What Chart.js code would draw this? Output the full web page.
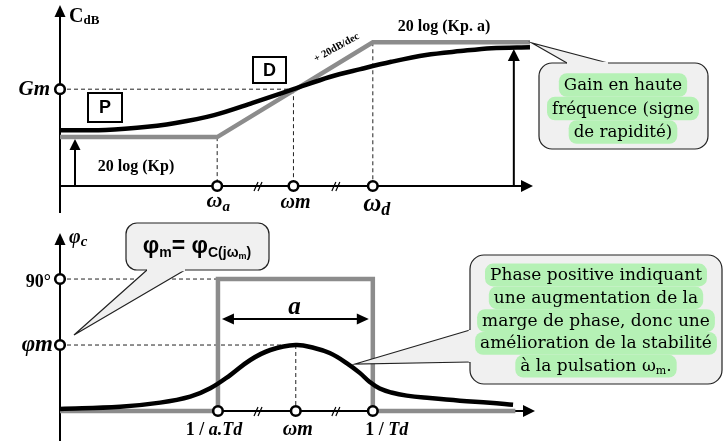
<!DOCTYPE html>
<html><head><meta charset="utf-8">
<script src="https://cdn.jsdelivr.net/npm/chart.js@4.4.0/dist/chart.umd.min.js"></script>
<style>
html,body{margin:0;padding:0;background:#fff;}
#wrap{position:relative;width:725px;height:441px;overflow:hidden;background:#fff;}
#c1{position:absolute;left:0;top:0;}
#c2{position:absolute;left:0;top:220px;}
</style></head><body>
<div id="wrap"><canvas id="c1" width="725" height="220"></canvas><canvas id="c2" width="725" height="221"></canvas></div>
<script>
// ---------- DATA ----------
// log-frequency axis (arbitrary units), gain in dB-like units, phase in degrees
const gainX      = [0, 0.5, 1, 1.5, 2, 2.5, 3.03, 3.5, 3.9, 4.3, 4.75, 5.2, 5.6, 6.1];
const gainY      = [11.4, 11.4, 11.9, 12.9, 14.5, 17.0, 19.8, 22.3, 23.9, 25.4, 26.8, 27.6, 28.2, 28.4];
const gainAsymX  = [0, 2.04, 4.06, 6.1];
const gainAsymY  = [10, 10, 29.4, 29.4];
const gainTickX  = [2.04, 3.03, 4.06];
const gainLevels = {low: 10, gm: 19.8, high: 29.4};

const phaseX     = [0, 0.78, 1.30, 1.69, 1.95, 2.21, 2.47, 2.73, 3.06, 3.30, 3.50, 3.72, 3.89, 4.02, 4.15, 4.30, 4.50, 4.80, 5.19, 5.58, 5.88];
const phaseY     = [1.4, 2.9, 5.7, 9.8, 15.5, 24.5, 34.8, 41.6, 45, 43, 39.5, 32.7, 26, 19.8, 15.3, 12.6, 10.5, 8.8, 7.0, 5.7, 4.3];
const phaseAsymX = [0, 2.05, 2.05, 4.06, 4.06, 5.91];
const phaseAsymY = [0, 0, 90, 90, 0, 0];
const phaseTickX = [2.05, 3.06, 4.06];
const phaseLevels = {max: 90, phim: 45};

// ---------- HELPERS ----------
const MATH = '"Liberation Serif", serif';
const SANS = '"Liberation Sans", "DejaVu Sans", sans-serif';
const TXT  = '"DejaVu Serif", serif';
const GREY = '#8c8c8c';

function pts(xs, ys){ return xs.map((x,i)=>({x:x, y:ys[i]})); }
function seg(ctx,x1,y1,x2,y2,w,col){ctx.save();ctx.lineWidth=w||2;ctx.strokeStyle=col||'#000';ctx.beginPath();ctx.moveTo(x1,y1);ctx.lineTo(x2,y2);ctx.stroke();ctx.restore();}
function dashed(ctx,x1,y1,x2,y2){ctx.save();ctx.setLineDash([4,3]);ctx.lineWidth=1;ctx.strokeStyle='#222';ctx.beginPath();ctx.moveTo(x1,y1);ctx.lineTo(x2,y2);ctx.stroke();ctx.restore();}
function head(ctx,tx,ty,dir,len,half){
  ctx.save();ctx.fillStyle='#000';ctx.beginPath();
  if(dir==='up'){ctx.moveTo(tx,ty);ctx.lineTo(tx-half,ty+len);ctx.lineTo(tx+half,ty+len);}
  if(dir==='right'){ctx.moveTo(tx,ty);ctx.lineTo(tx-len,ty-half);ctx.lineTo(tx-len,ty+half);}
  if(dir==='left'){ctx.moveTo(tx,ty);ctx.lineTo(tx+len,ty-half);ctx.lineTo(tx+len,ty+half);}
  ctx.closePath();ctx.fill();ctx.restore();
}
function circle(ctx,x,y){ctx.save();ctx.beginPath();ctx.arc(x,y,4.8,0,Math.PI*2);ctx.fillStyle='#fff';ctx.fill();ctx.lineWidth=2.6;ctx.strokeStyle='#000';ctx.stroke();ctx.restore();}
function brk(ctx,x,y){ctx.save();ctx.lineWidth=1.2;ctx.strokeStyle='#000';for(let i=0;i<2;i++){ctx.beginPath();ctx.moveTo(x-4+i*4,y+5);ctx.lineTo(x+i*4,y-4);ctx.stroke();}ctx.restore();}
function rich(ctx,parts,x,y,align){
  let w=0; parts.forEach(p=>{ctx.font=p.f;p.w=ctx.measureText(p.t).width;w+=p.w;});
  let sx = align==='center'? x-w/2 : (align==='right'? x-w : x);
  ctx.save();ctx.fillStyle='#000';ctx.textAlign='left';ctx.textBaseline='alphabetic';
  parts.forEach(p=>{ctx.font=p.f;ctx.fillText(p.t,sx,y+(p.dy||0));sx+=p.w;});
  ctx.restore(); return w;
}
function rrect(ctx,x,y,w,h,r){ctx.beginPath();ctx.moveTo(x+r,y);ctx.lineTo(x+w-r,y);ctx.arcTo(x+w,y,x+w,y+r,r);ctx.lineTo(x+w,y+h-r);ctx.arcTo(x+w,y+h,x+w-r,y+h,r);ctx.lineTo(x+r,y+h);ctx.arcTo(x,y+h,x,y+h-r,r);ctx.lineTo(x,y+r);ctx.arcTo(x,y,x+r,y,r);ctx.closePath();}
function callout(ctx,bx,by,bw,bh,r,b1,b2,tip){
  ctx.save();
  rrect(ctx,bx,by,bw,bh,r);ctx.fillStyle='#f0f0f0';ctx.fill();ctx.lineWidth=1.2;ctx.strokeStyle='#222';ctx.stroke();
  ctx.beginPath();ctx.moveTo(b1[0],b1[1]);ctx.lineTo(tip[0],tip[1]);ctx.lineTo(b2[0],b2[1]);ctx.closePath();ctx.fill();
  ctx.beginPath();ctx.moveTo(b1[0],b1[1]);ctx.lineTo(tip[0],tip[1]);ctx.lineTo(b2[0],b2[1]);ctx.stroke();
  ctx.strokeStyle='#f0f0f0';ctx.lineWidth=2.6;ctx.beginPath();ctx.moveTo(b1[0],b1[1]);ctx.lineTo(b2[0],b2[1]);ctx.stroke();
  ctx.restore();
}
function fitSize(ctx,text,family,weight,target){ctx.font=weight+' 20px '+family;return 20*target/ctx.measureText(text).width;}
function greenLines(ctx,lines,cx,cy0,lh,font){
  ctx.save();ctx.font=font;
  lines.forEach((ln,i)=>{
    let w=0; ln.forEach(p=>{ctx.font=p.f||font;w+=ctx.measureText(p.t).width;});
    ctx.fillStyle='#b5f1b5'; rrect(ctx,cx-w/2-5,cy0+i*lh-lh/2,w+10,lh,8); ctx.fill();
  });
  lines.forEach((ln,i)=>{
    rich(ctx, ln.map(p=>({t:p.t,f:p.f||font,dy:p.dy||0})), cx, cy0+i*lh+5, 'center');
  });
  ctx.restore();
}
function box(ctx,x,y,w,h,letter){
  ctx.save();ctx.fillStyle='#fff';ctx.fillRect(x,y,w,h);ctx.lineWidth=2;ctx.strokeStyle='#000';ctx.strokeRect(x,y,w,h);
  ctx.fillStyle='#000';ctx.font='bold 18px '+SANS;ctx.textAlign='center';ctx.textBaseline='middle';ctx.fillText(letter,x+w/2,y+h/2+1);ctx.restore();
}

// ---------- TOP (gain) ----------
const topDeco = {id:'topDeco',
  beforeDatasetsDraw(chart){
    const ctx=chart.ctx, X=v=>chart.scales.x.getPixelForValue(v), Y=v=>chart.scales.y.getPixelForValue(v);
    const x0=X(0), y0=Y(0);
    dashed(ctx,x0,Y(gainLevels.gm),X(gainTickX[1]),Y(gainLevels.gm));
    dashed(ctx,X(gainTickX[0]),Y(gainLevels.low),X(gainTickX[0]),y0);
    dashed(ctx,X(gainTickX[1]),Y(gainLevels.gm),X(gainTickX[1]),y0);
    dashed(ctx,X(gainTickX[2]),Y(gainLevels.high),X(gainTickX[2]),y0);
    seg(ctx,x0,213,x0,14,2); head(ctx,x0,5,'up',12,5.5);
    seg(ctx,x0,y0,523,y0,2); head(ctx,533,y0,'right',12,6);
    const xa=X(0.195); seg(ctx,xa,y0,xa,Y(gainLevels.low)+12,2); head(ctx,xa,Y(gainLevels.low)+2,'up',11,5.5);
    const xb=X(5.89); seg(ctx,xb,y0,xb,60,2); head(ctx,xb,49,'up',12,6);
  },
  afterDatasetsDraw(chart){
    const ctx=chart.ctx, X=v=>chart.scales.x.getPixelForValue(v), Y=v=>chart.scales.y.getPixelForValue(v);
    const x0=X(0), y0=Y(0);
    brk(ctx,X(2.57),y0); brk(ctx,X(3.58),y0);
    circle(ctx,x0,Y(gainLevels.gm));
    gainTickX.forEach(v=>circle(ctx,X(v),y0));
    rich(ctx,[{t:'C',f:'bold 20px '+MATH},{t:'dB',f:'bold 13px '+MATH,dy:2}],69,22,'left');
    rich(ctx,[{t:'Gm',f:'bold italic 21px '+MATH}],50,95,'right');
    rich(ctx,[{t:'ω',f:'bold italic 22px '+MATH},{t:'a',f:'bold italic 15px '+MATH,dy:4}],X(gainTickX[0])+1,207,'center');
    rich(ctx,[{t:'ωm',f:'bold italic 20px '+MATH}],X(gainTickX[1])+2,208,'center');
    rich(ctx,[{t:'ω',f:'bold italic 25px '+MATH},{t:'d',f:'bold italic 18px '+MATH,dy:4}],X(gainTickX[2])+4,211,'center');
    rich(ctx,[{t:'20 log (Kp)',f:'bold 16px '+MATH}],136,171,'center');
    rich(ctx,[{t:'20 log (Kp. a)',f:'bold 16px '+MATH}],444,31,'center');
    ctx.save();ctx.translate(338,50);ctx.rotate(-29*Math.PI/180);
    rich(ctx,[{t:'+ 20dB/dec',f:'bold 10.5px '+MATH}],0,0,'center');ctx.restore();
    box(ctx,88,93,34,29,'P'); box(ctx,253,57,33,26,'D');
    callout(ctx,539,63,169,86,13,[567,63],[608,63],[532,43]);
    const s=fitSize(ctx,'fréquence (signe',TXT,'normal',142);
    const f='normal '+s.toFixed(2)+'px '+TXT;
    greenLines(ctx,[[{t:'Gain en haute'}],[{t:'fréquence (signe'}],[{t:'de rapidité)'}]],623,85,23.5,f);
  }
};

new Chart(document.getElementById('c1'),{
  type:'scatter',
  data:{datasets:[
    {data:pts(gainAsymX,gainAsymY),showLine:true,borderColor:GREY,borderWidth:4.5,pointRadius:0,tension:0,clip:false,order:2,borderJoinStyle:'miter'},
    {data:pts(gainX,gainY),showLine:true,borderColor:'#000',borderWidth:4.5,pointRadius:0,cubicInterpolationMode:'monotone',clip:false,order:1}
  ]},
  options:{responsive:false,animation:false,events:[],
    layout:{padding:{left:60,right:195,top:10,bottom:34}},
    plugins:{legend:{display:false},tooltip:{enabled:false}},
    scales:{x:{type:'linear',min:0,max:6.1,display:false},y:{type:'linear',min:0,max:36,display:false}}},
  plugins:[topDeco]
});

// ---------- BOTTOM (phase) ----------
const botDeco = {id:'botDeco',
  beforeDatasetsDraw(chart){
    const ctx=chart.ctx, X=v=>chart.scales.x.getPixelForValue(v), Y=v=>chart.scales.y.getPixelForValue(v);
    const x0=X(0), y0=Y(0);
    dashed(ctx,x0,Y(phaseLevels.max),X(phaseTickX[0]),Y(phaseLevels.max));
    dashed(ctx,x0,Y(phaseLevels.phim),X(phaseTickX[1]),Y(phaseLevels.phim));
    dashed(ctx,X(phaseTickX[1]),Y(phaseLevels.phim),X(phaseTickX[1]),y0);
    seg(ctx,x0,221,x0,24,2); head(ctx,x0,13,'up',12,5.5);
    seg(ctx,x0,y0,525,y0,2); head(ctx,535,y0,'right',12,6);
    const ya=99; seg(ctx,X(phaseTickX[0])+12,ya,X(phaseTickX[2])-12,ya,2);
    head(ctx,X(phaseTickX[0])+4,ya,'left',12,5.5); head(ctx,X(phaseTickX[2])-4,ya,'right',12,5.5);
  },
  afterDatasetsDraw(chart){
    const ctx=chart.ctx, X=v=>chart.scales.x.getPixelForValue(v), Y=v=>chart.scales.y.getPixelForValue(v);
    const x0=X(0), y0=Y(0);
    brk(ctx,X(2.57),y0); brk(ctx,X(3.58),y0);
    circle(ctx,x0,Y(phaseLevels.max)); circle(ctx,x0,Y(phaseLevels.phim));
    phaseTickX.forEach(v=>circle(ctx,X(v),y0));
    rich(ctx,[{t:'φ',f:'bold italic 20px '+MATH},{t:'c',f:'bold italic 15px '+MATH,dy:3}],69,23,'left');
    rich(ctx,[{t:'90°',f:'bold 18px '+MATH}],51,67,'right');
    rich(ctx,[{t:'φm',f:'bold italic 23px '+MATH}],53,131,'right');
    rich(ctx,[{t:'a',f:'bold italic 25px '+MATH}],X((phaseTickX[0]+phaseTickX[2])/2)-1,94,'center');
    rich(ctx,[{t:'1 / ',f:'bold 18px '+MATH},{t:'a.Td',f:'bold italic 18px '+MATH}],X(phaseTickX[0])-4,215,'center');
    rich(ctx,[{t:'ωm',f:'bold italic 20px '+MATH}],X(phaseTickX[1])+2,215,'center');
    rich(ctx,[{t:'1 / ',f:'bold 18px '+MATH},{t:'Td',f:'bold italic 18px '+MATH}],X(phaseTickX[2])+14,215,'center');
    callout(ctx,126,3,143,47,11,[147,50],[185,50],[74,115]);
    rich(ctx,[{t:'φ',f:'bold 23px '+SANS},{t:'m',f:'bold 14px '+SANS,dy:4},{t:'= φ',f:'bold 23px '+SANS},
              {t:'C(jω',f:'bold 14px '+SANS,dy:4},{t:'m',f:'bold 9px '+SANS,dy:6},{t:')',f:'bold 14px '+SANS,dy:4}],197,33,'center');
    callout(ctx,470,35,252,129,14,[470,110],[470,142],[355,144]);
    const s=fitSize(ctx,'amélioration de la stabilité',TXT,'normal',232);
    const f='normal '+s.toFixed(2)+'px '+TXT;
    greenLines(ctx,[[{t:'Phase positive indiquant'}],[{t:'une augmentation de la'}],[{t:'marge de phase, donc une'}],
      [{t:'amélioration de la stabilité'}],[{t:'à la pulsation ω'},{t:'m',f:'normal '+(s*0.65).toFixed(2)+'px '+TXT,dy:3},{t:'.'}]],
      596,55,22.8,f);
  }
};

new Chart(document.getElementById('c2'),{
  type:'scatter',
  data:{datasets:[
    {data:pts(phaseAsymX,phaseAsymY),showLine:true,borderColor:GREY,borderWidth:4.5,pointRadius:0,tension:0,clip:false,order:2,borderJoinStyle:'miter'},
    {data:pts(phaseX,phaseY),showLine:true,borderColor:'#000',borderWidth:4.5,pointRadius:0,tension:0.4,clip:false,order:1}
  ]},
  options:{responsive:false,animation:false,events:[],
    layout:{padding:{left:60,right:195,top:13,bottom:30}},
    plugins:{legend:{display:false},tooltip:{enabled:false}},
    scales:{x:{type:'linear',min:0,max:6.1,display:false},y:{type:'linear',min:0,max:121.4,display:false}}},
  plugins:[botDeco]
});
</script>
</body></html>
